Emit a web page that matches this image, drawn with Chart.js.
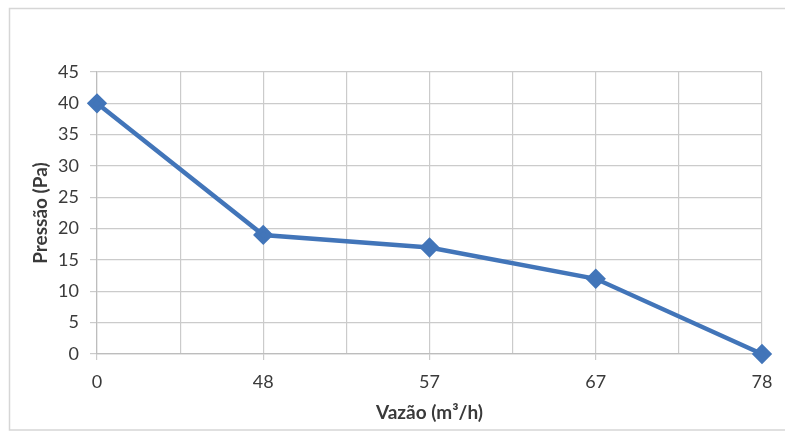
<!DOCTYPE html>
<html>
<head>
<meta charset="utf-8">
<script src="https://cdn.jsdelivr.net/npm/chart.js@4.4.0/dist/chart.umd.min.js"></script>
<style>
  html, body { margin: 0; padding: 0; background: #ffffff; }
  #wrap { width: 785px; height: 434px; position: relative; }
</style>
</head>
<body>
<div id="wrap"><canvas id="c" width="785" height="434"></canvas></div>
<script>
// Data
const categories = ['0', '48', '57', '67', '78'];   // Vazão (m³/h)
const pressure = [40, 19, 17, 12, 0];               // Pressão (Pa)
const yTicks = [0, 5, 10, 15, 20, 25, 30, 35, 40, 45];
const xTitle = 'Vazão (m³/h)';
const yTitle = 'Pressão (Pa)';

const points = categories.map((c, i) => ({ x: i * 2, y: pressure[i] }));

const frame = {
  id: 'frame',
  beforeDraw(chart) {
    const ctx = chart.ctx;
    ctx.save();
    ctx.fillStyle = '#ffffff';
    ctx.fillRect(0, 0, chart.width, chart.height);
    ctx.strokeStyle = '#d6d6d6';
    ctx.lineWidth = 1.5;
    ctx.strokeRect(9.5, 8.5, 820, 421.5);
    ctx.restore();
  }
};

const textColor = '#3a3a3a';
const gridColor = '#cbcbcb';

new Chart(document.getElementById('c'), {
  type: 'line',
  data: {
    datasets: [{
      data: points,
      borderColor: '#4275b9',
      backgroundColor: '#4275b9',
      borderWidth: 4.5,
      pointStyle: 'rectRot',
      pointRadius: 7,
      pointHoverRadius: 7,
      tension: 0,
      fill: false,
      clip: false
    }]
  },
  options: {
    responsive: false,
    animation: false,
    events: [],
    layout: { padding: { left: 25, top: 72, right: 23, bottom: 6 } },
    plugins: { legend: { display: false }, tooltip: { enabled: false } },
    scales: {
      x: {
        type: 'linear',
        min: 0,
        max: (categories.length - 1) * 2,
        afterFit(s) { s.height = 74; },
        ticks: {
          stepSize: 1,
          autoSkip: false,
          maxRotation: 0,
          padding: 11,
          color: textColor,
          font: { family: 'Lato', size: 18 },
          callback: (v) => (v % 2 === 0 ? categories[v / 2] : '')
        },
        grid: {
          color: gridColor,
          lineWidth: 1.2,
          tickLength: 6,
          tickColor: (ctx) => (ctx.tick && ctx.tick.value % 2 === 0 ? gridColor : 'rgba(0,0,0,0)')
        },
        border: { color: '#bdbdbd', width: 1.2 },
        title: {
          display: true,
          text: xTitle,
          color: textColor,
          font: { family: 'Lato', size: 19, weight: 'bold' },
          padding: { top: 4, bottom: 4 }
        }
      },
      y: {
        min: 0,
        max: 45,
        afterFit(s) { s.width = 72; },
        afterBuildTicks(s) { s.ticks = yTicks.map(v => ({ value: v })); },
        ticks: {
          padding: 11,
          color: textColor,
          font: { family: 'Lato', size: 18 }
        },
        grid: { color: gridColor, lineWidth: 1.2, tickLength: 7 },
        border: { color: '#bdbdbd', width: 1.2 },
        title: {
          display: true,
          text: yTitle,
          color: textColor,
          font: { family: 'Lato', size: 19, weight: 'bold' },
          padding: { top: 4, bottom: 4 }
        }
      }
    }
  },
  plugins: [frame]
});
</script>
</body>
</html>
